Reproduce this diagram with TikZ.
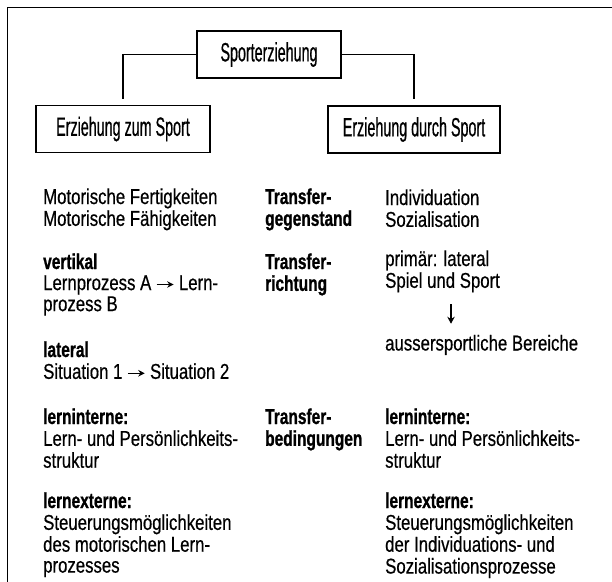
\documentclass[tikz,border=0pt]{standalone}
\usepackage{fontspec}
\setmainfont{Liberation Sans}[UprightFeatures={FakeStretch=0.78,FakeBold=0.5},BoldFeatures={FakeStretch=0.72,FakeBold=0.9}]
\newfontfamily\kastenschrift{Liberation Sans}[FakeStretch=0.54,FakeBold=0.6]
\usetikzlibrary{arrows.meta}

% Zeilenblock, Grundlinie = erste Zeile
\newcommand{\zeilen}[1]{\begin{tabular}[t]{@{}l@{}}#1\end{tabular}}
% kleiner Pfeil im Text
\newcommand{\textpfeil}[1]{\tikz[baseline=-0.26em]\draw[line width=1.3pt,-{Stealth[length=6.5pt,width=6.5pt]}] (0pt,0pt) -- (#1,0pt);}

\tikzset{
  kasten/.style={draw, line width=1.5bp, inner sep=0, minimum height=47bp,
    font=\kastenschrift\fontsize{26.5bp}{28bp}\selectfont},
  spalte/.style={anchor=base west, inner sep=0, font=\fontsize{21.5bp}{20.9bp}\selectfont},
  verbinder/.style={line width=1.2bp, shorten >=6bp},
  pfeil/.style={line width=1.4bp, -{Stealth[length=7pt,width=7.5pt]}},
}

\begin{document}
\begin{tikzpicture}[x=1bp, y=-1bp]
\useasboundingbox (0,0) rectangle (612,582);

% Rahmen (oben und links)
\draw[line width=1.6bp] (612,7.5) -- (7.5,7.5) -- (7.5,582);

% Kaesten
\node[kasten, minimum width=144bp] (sporterz) at (269,54.5) {Sporterziehung};
\node[kasten, minimum width=174bp] (zumsport) at (123,129) {Erziehung zum Sport};
\node[kasten, minimum width=172bp] (durchsport) at (414,129.5) {Erziehung durch Sport};

\draw[verbinder] (sporterz.west) -| (zumsport.north);
\draw[verbinder] (sporterz.east) -| (durchsport.north);

% linke Spalte
\node[spalte] (lgegenstand) at (43,204) {\zeilen{Motorische Fertigkeiten\\Motorische Fähigkeiten}};
\node[spalte] (lvertikal) at (43,269) {\zeilen{\textbf{vertikal}\\Lernprozess A \textpfeil{17bp} Lern-\\prozess B}};
\node[spalte] (llateral) at (43,357) {\zeilen{\textbf{lateral}\\Situation 1 \textpfeil{17bp} Situation 2}};
\node[spalte] (lintern) at (43,424) {\zeilen{\textbf{lerninterne:}\\Lern- und Persönlichkeits-\\struktur}};
\node[spalte] (lextern) at (43,508) {\zeilen{\textbf{lernexterne:}\\Steuerungsmöglichkeiten\\des motorischen Lern-\\prozesses}};

% mittlere Spalte
\foreach \name/\y in {gegenstand/204, richtung/269, bedingungen/424}
  \node[spalte, font=\fontsize{21.5bp}{20.9bp}\selectfont\bfseries] (t\name) at (265,\y) {\zeilen{Transfer-\\\name}};

% rechte Spalte
\node[spalte] (rgegenstand) at (385,205) {\zeilen{Individuation\\Sozialisation}};
\node[spalte] (rrichtung) at (385,266) {\zeilen{primär: lateral\\Spiel und Sport}};
\node[spalte] (rbereich) at (385,350.5) {aussersportliche Bereiche};
\node[spalte] (rintern) at (385,424) {\zeilen{\textbf{lerninterne:}\\Lern- und Persönlichkeits-\\struktur}};
\node[spalte] (rextern) at (385,508) {\zeilen{\textbf{lernexterne:}\\Steuerungsmöglichkeiten\\der Individuations- und\\Sozialisationsprozesse}};

\draw[pfeil, shorten <=10bp, shorten >=11bp] ([xshift=66bp]rrichtung.south west) -- ([xshift=66bp]rbereich.north west);

\end{tikzpicture}
\end{document}
